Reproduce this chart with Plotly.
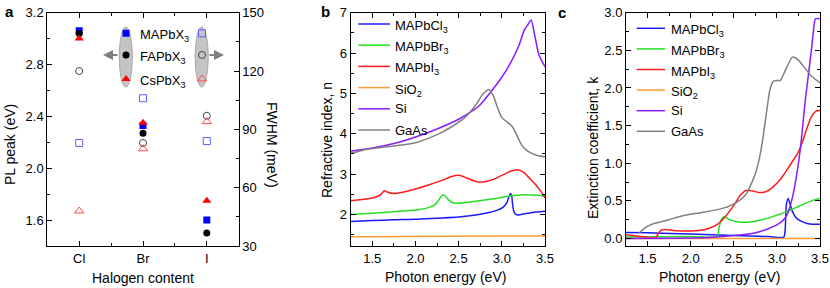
import plotly.graph_objects as go

W, H = 830, 288
FONT = "Arial, 'Liberation Sans', sans-serif"

# ---------------- Panel a data ----------------
halogens = ["Cl", "Br", "I"]
halogen_pos = [1, 2, 3]
pl_ma = [3.06, 2.33, 1.60]
pl_fa = [3.04, 2.27, 1.50]
pl_cs = [3.00, 2.35, 1.75]
fwhm_ma = [83, 106, 84]
fwhm_fa = [120, 83, 97]
fwhm_cs = [48, 80, 94]
series_a = ["MAPbX<sub>3</sub>", "FAPbX<sub>3</sub>", "CsPbX<sub>3</sub>"]

# ---------------- Panel b data (refractive index n) ----------------
e_cl_n = [1.25, 1.5, 1.75, 2.0, 2.25, 2.5, 2.7, 2.85, 2.95, 3.02, 3.06, 3.08, 3.10, 3.115, 3.125, 3.14, 3.16, 3.19, 3.25, 3.35, 3.5]
n_cl = [1.83, 1.85, 1.87, 1.88, 1.91, 1.94, 1.99, 2.05, 2.11, 2.19, 2.30, 2.42, 2.52, 2.45, 2.25, 2.07, 2.01, 1.99, 2.01, 2.05, 2.08]

e_br_n = [1.25, 1.5, 1.75, 2.0, 2.15, 2.22, 2.27, 2.31, 2.34, 2.38, 2.43, 2.5, 2.7, 2.9, 3.1, 3.25, 3.4, 3.5]
n_br = [2.0, 2.03, 2.07, 2.11, 2.17, 2.23, 2.36, 2.48, 2.47, 2.37, 2.29, 2.28, 2.33, 2.39, 2.46, 2.49, 2.48, 2.46]

e_i_n = [1.25, 1.45, 1.55, 1.6, 1.64, 1.68, 1.75, 1.85, 2.0, 2.15, 2.3, 2.42, 2.5, 2.6, 2.7, 2.8, 2.9, 3.0, 3.1, 3.18, 3.25, 3.32, 3.4, 3.46, 3.5]
n_i = [2.34, 2.39, 2.44, 2.5, 2.59, 2.55, 2.52, 2.55, 2.63, 2.73, 2.84, 2.94, 2.97, 2.9, 2.82, 2.81, 2.87, 2.97, 3.07, 3.11, 3.05, 2.9, 2.72, 2.55, 2.41]

e_sio2_n = [1.25, 2.4, 3.5]
n_sio2 = [1.45, 1.46, 1.47]

e_si_n = [1.25, 1.5, 1.75, 2.0, 2.25, 2.5, 2.64, 2.75, 2.87, 3.0, 3.1, 3.2, 3.26, 3.3, 3.34, 3.38, 3.43, 3.5]
n_si = [3.57, 3.65, 3.76, 3.92, 4.12, 4.36, 4.54, 4.72, 5.03, 5.4, 5.75, 6.2, 6.57, 6.7, 6.82, 6.45, 5.95, 5.66]

e_gaas_n = [1.25, 1.4, 1.6, 1.75, 2.0, 2.25, 2.4, 2.58, 2.7, 2.78, 2.85, 2.9, 2.95, 3.0, 3.07, 3.12, 3.17, 3.23, 3.3, 3.4, 3.5]
n_gaas = [3.51, 3.6, 3.66, 3.7, 3.78, 3.98, 4.15, 4.42, 4.72, 4.98, 5.10, 4.95, 4.65, 4.40, 4.28, 4.18, 3.98, 3.72, 3.57, 3.47, 3.43]

# ---------------- Panel c data (extinction coefficient k) ----------------
e_cl_k = [1.25, 1.5, 2.0, 2.5, 2.9, 3.08, 3.095, 3.11, 3.13, 3.15, 3.18, 3.22, 3.28, 3.35, 3.42, 3.5]
k_cl = [0.08, 0.075, 0.06, 0.04, 0.025, 0.018, 0.1, 0.45, 0.53, 0.47, 0.36, 0.28, 0.23, 0.2, 0.19, 0.19]

e_br_k = [1.25, 2.0, 2.31, 2.33, 2.36, 2.39, 2.45, 2.55, 2.65, 2.75, 2.9, 3.0, 3.1, 3.2, 3.3, 3.4, 3.5]
k_br = [0.02, 0.025, 0.03, 0.15, 0.26, 0.29, 0.25, 0.22, 0.215, 0.23, 0.27, 0.31, 0.35, 0.40, 0.45, 0.50, 0.53]

e_i_k = [1.25, 1.4, 1.5, 1.6, 1.62, 1.66, 1.7, 1.8, 1.9, 2.0, 2.1, 2.2, 2.3, 2.4, 2.5, 2.58, 2.65, 2.72, 2.8, 2.87, 2.95, 3.05, 3.15, 3.25, 3.3, 3.35, 3.4, 3.45, 3.5]
k_i = [0.05, 0.03, 0.015, 0.01, 0.06, 0.11, 0.12, 0.105, 0.1, 0.1, 0.105, 0.13, 0.18, 0.29, 0.44, 0.58, 0.64, 0.63, 0.61, 0.62, 0.68, 0.8, 0.97, 1.15, 1.3, 1.47, 1.62, 1.69, 1.70]

e_sio2_k = [1.25, 3.5]
k_sio2 = [0.0, 0.0]

e_si_k = [1.25, 2.0, 2.3, 2.5, 2.67, 2.8, 2.9, 3.0, 3.07, 3.12, 3.17, 3.22, 3.27, 3.33, 3.4, 3.44, 3.45, 3.5]
k_si = [0.0, 0.005, 0.02, 0.04, 0.06, 0.09, 0.13, 0.18, 0.24, 0.32, 0.5, 0.78, 1.17, 1.84, 2.5, 2.9, 2.92, 2.92]

e_gaas_k = [1.40, 1.47, 1.55, 1.65, 1.75, 1.9, 2.1, 2.3, 2.45, 2.56, 2.65, 2.75, 2.8, 2.84, 2.88, 2.92, 2.96, 3.0, 3.04, 3.1, 3.18, 3.25, 3.3, 3.4, 3.5]
k_gaas = [0.07, 0.14, 0.19, 0.22, 0.25, 0.30, 0.34, 0.38, 0.43, 0.50, 0.60, 0.86, 1.08, 1.35, 1.68, 1.98, 2.09, 2.10, 2.10, 2.24, 2.41, 2.37, 2.30, 2.16, 2.07]

mat_names = ["MAPbCl<sub>3</sub>", "MAPbBr<sub>3</sub>", "MAPbI<sub>3</sub>", "SiO<sub>2</sub>", "Si", "GaAs"]
mat_colors = ["#1a1aff", "#22e022", "#ff1a1a", "#ff9933", "#8a1aff", "#808080"]

n_sets = [(e_cl_n, n_cl), (e_br_n, n_br), (e_i_n, n_i), (e_sio2_n, n_sio2), (e_si_n, n_si), (e_gaas_n, n_gaas)]
k_sets = [(e_cl_k, k_cl), (e_br_k, k_br), (e_i_k, k_i), (e_sio2_k, k_sio2), (e_si_k, k_si), (e_gaas_k, k_gaas)]


def px(x):
    return x / W


def py(y):
    return 1 - y / H


fig = go.Figure()

# ---------------- Panel a traces ----------------
pl_sets = [pl_ma, pl_fa, pl_cs]
fw_sets = [fwhm_ma, fwhm_fa, fwhm_cs]
sym_f = ["square", "circle", "triangle-up"]
sym_o = ["square-open", "circle-open", "triangle-up-open"]
col_f = ["#0000ff", "#000000", "#ff0000"]
col_o = ["#6060ff", "#444444", "#ff4a4a"]
sizes = [7, 7, 8]

for i in range(3):
    fig.add_trace(go.Scatter(x=halogen_pos, y=fw_sets[i], mode="markers", xaxis="x", yaxis="y2",
                             marker=dict(symbol=sym_o[i], size=sizes[i], color=col_o[i], line=dict(width=1, color=col_o[i])),
                             showlegend=False, name=series_a[i]))
for i in range(3):
    fig.add_trace(go.Scatter(x=halogen_pos, y=pl_sets[i], mode="markers", xaxis="x", yaxis="y",
                             marker=dict(symbol=sym_f[i], size=sizes[i], color=col_f[i]),
                             showlegend=False, name=series_a[i]))

# legend glyph positions (panel a, data coordinates of the left axis)
LEG_XL, LEG_XR = 1.734, 2.925
LEG_Y = [3.041, 2.874, 2.689]
for i in range(3):
    fig.add_trace(go.Scatter(x=[LEG_XL], y=[LEG_Y[i]], mode="markers", xaxis="x", yaxis="y",
                             marker=dict(symbol=sym_f[i], size=sizes[i], color=col_f[i]),
                             showlegend=False, hoverinfo="skip"))
    fig.add_trace(go.Scatter(x=[LEG_XR], y=[LEG_Y[i]], mode="markers", xaxis="x", yaxis="y",
                             marker=dict(symbol=sym_o[i], size=sizes[i], color=col_o[i],
                                         line=dict(width=1, color=col_o[i])),
                             showlegend=False, hoverinfo="skip"))

# ---------------- Panel b & c traces ----------------
for i, (e, v) in enumerate(n_sets):
    fig.add_trace(go.Scatter(x=e, y=v, mode="lines", xaxis="x2", yaxis="y3", name=mat_names[i],
                             line=dict(color=mat_colors[i], width=1.5, shape="spline", smoothing=0.6),
                             showlegend=False))
for i, (e, v) in enumerate(k_sets):
    fig.add_trace(go.Scatter(x=e, y=v, mode="lines", xaxis="x3", yaxis="y4", name=mat_names[i],
                             line=dict(color=mat_colors[i], width=1.5, shape="spline", smoothing=0.6),
                             showlegend=False))

# ---------------- Axes ----------------
YDOM = [py(246), py(12.7)]
common = dict(showline=True, linecolor="#000", linewidth=1, ticks="inside", tickcolor="#000",
              ticklen=5, tickwidth=1, showgrid=False, zeroline=False, automargin=False,
              tickfont=dict(family=FONT, size=13, color="#000"))
MINOR = dict(ticklen=3, ticks="inside", tickcolor="#000")

fig.update_layout(
    xaxis=dict(domain=[px(47.3), px(238.7)], range=[0.5, 3.5], tickmode="array", tickvals=halogen_pos,
               ticktext=halogens, mirror="ticks", anchor="y",
               minor=dict(tickmode="array", tickvals=[1.5, 2.5], **MINOR), **common),
    yaxis=dict(domain=YDOM, range=[1.4, 3.2], dtick=0.4, tick0=0, tickformat=".1f", anchor="x",
               minor=dict(dtick=0.2, tick0=0, **MINOR), **common),
    yaxis2=dict(domain=YDOM, range=[30, 150], dtick=30, tick0=0, overlaying="y", side="right", anchor="x",
                minor=dict(dtick=15, tick0=0, **MINOR), **common),
    xaxis2=dict(domain=[px(350.7), px(545)], range=[1.25, 3.5], dtick=0.5, tick0=0, tickformat=".1f",
                mirror="ticks", anchor="y3", minor=dict(dtick=0.25, tick0=0, **MINOR), **common),
    yaxis3=dict(domain=YDOM, range=[1.22, 7], dtick=1, tick0=0, mirror="ticks", anchor="x2",
                minor=dict(dtick=0.5, tick0=0, **MINOR), **common),
    xaxis3=dict(domain=[px(626), px(820)], range=[1.25, 3.5], dtick=0.5, tick0=0, tickformat=".1f",
                mirror="ticks", anchor="y4", minor=dict(dtick=0.25, tick0=0, **MINOR), **common),
    yaxis4=dict(domain=YDOM, range=[-0.1, 3.0], dtick=0.5, tick0=0, tickformat=".1f", mirror="ticks", anchor="x3",
                minor=dict(dtick=0.25, tick0=0, **MINOR), **common),
)

shapes = []
annotations = []

# panel a legend ellipses and arrows
for cx in (125.8, 201.7):
    shapes.append(dict(type="circle", xref="paper", yref="paper", x0=px(cx - 6.5), x1=px(cx + 6.5),
                       y0=py(87), y1=py(27), fillcolor="#c4c4c4", line=dict(color="#a8a8a8", width=1), layer="below"))
annotations.append(dict(xref="paper", yref="paper", x=px(103), y=py(55), ax=16, ay=0, showarrow=True,
                        arrowhead=2, arrowsize=1, arrowwidth=2, arrowcolor="#808080", text=""))
annotations.append(dict(xref="paper", yref="paper", x=px(224), y=py(55), ax=-16, ay=0, showarrow=True,
                        arrowhead=2, arrowsize=1, arrowwidth=2, arrowcolor="#808080", text=""))
for i, yy in enumerate([33.3, 55, 79]):
    annotations.append(dict(xref="paper", yref="paper", x=px(138), y=py(yy + 2.5), xanchor="left", yanchor="middle",
                            text=series_a[i], showarrow=False, font=dict(family=FONT, size=13, color="#000")))

# panel b and c legends
for (lx0, lx1, tx, y0, dy) in [(358.3, 390, 393, 24, 21.2), (636.7, 665, 669, 28.3, 20.6)]:
    for i in range(6):
        yy = y0 + dy * i
        shapes.append(dict(type="line", xref="paper", yref="paper", x0=px(lx0), x1=px(lx1), y0=py(yy), y1=py(yy),
                           line=dict(color=mat_colors[i], width=1.5)))
        annotations.append(dict(xref="paper", yref="paper", x=px(tx), y=py(yy + (2.5 if "<sub>" in mat_names[i] else 0)),
                                xanchor="left", yanchor="middle", text=mat_names[i], showarrow=False,
                                font=dict(family=FONT, size=13, color="#000")))


# axis titles
def title(text, x, y, angle=0):
    annotations.append(dict(xref="paper", yref="paper", x=px(x), y=py(y), xanchor="center", yanchor="middle",
                            text=text, textangle=angle, showarrow=False, font=dict(family=FONT, size=14, color="#000")))


title("PL peak (eV)", 10, 145, -90)
title("FWHM (meV)", 272, 145, 90)
title("Halogen content", 143, 278)
title("Refractive index, n", 327, 140, -90)
title("Photon energy (eV)", 445, 277)
title("Extinction coefficient, k", 593, 148, -90)
title("Photon energy (eV)", 719, 277)

for lab, x, y in [("a", 9, 12), ("b", 325, 12), ("c", 562, 13)]:
    annotations.append(dict(xref="paper", yref="paper", x=px(x), y=py(y), xanchor="center", yanchor="middle",
                            text="<b>%s</b>" % lab, showarrow=False, font=dict(family=FONT, size=15, color="#000")))

fig.update_layout(width=W, height=H, margin=dict(l=0, r=0, t=0, b=0, pad=0), autosize=False,
                  paper_bgcolor="white", plot_bgcolor="white", shapes=shapes, annotations=annotations,
                  showlegend=False, font=dict(family=FONT, size=12, color="#000"))

fig.write_html("out.html", config={"displayModeBar": False},
               post_script="document.body.style.margin='0';document.body.style.padding='0';")
